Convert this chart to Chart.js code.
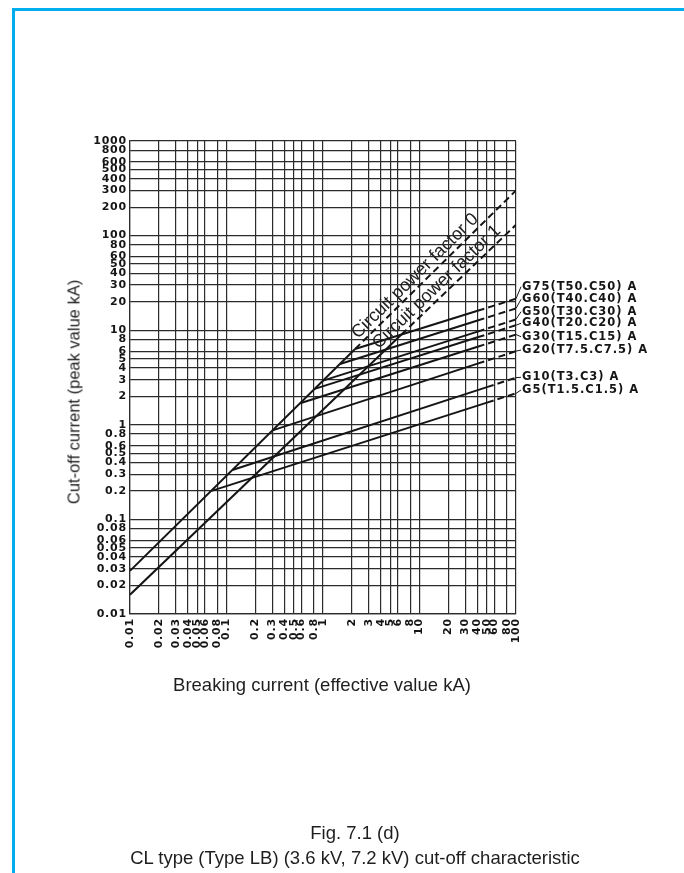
<!DOCTYPE html>
<html>
<head>
<meta charset="utf-8">
<title>CL type cut-off characteristic</title>
<script src="https://cdn.jsdelivr.net/npm/chart.js@4.4.1/dist/chart.umd.min.js"></script>
<style>
  html, body { margin: 0; padding: 0; background: #fff; }
  body {
    width: 684px; height: 873px; position: relative; overflow: hidden;
    font-family: "Liberation Sans", Arial, sans-serif; color: #1e1e1e;
  }
  .frame {
    position: absolute; left: 12px; top: 8px; right: -10px; bottom: -10px;
    border-top: 3px solid #00aeef; border-left: 3px solid #00aeef;
  }
  #chart { position: absolute; left: 0; top: 0; }
  .y-title {
    position: absolute; left: 74px; top: 392px; white-space: nowrap; font-size: 16.5px;
    transform: translate(-50%, -50%) rotate(-90deg);
  }
  .x-title {
    position: absolute; left: 322px; top: 685px; white-space: nowrap; font-size: 18.5px;
    transform: translate(-50%, -50%);
  }
  .caption {
    position: absolute; left: 0; width: 710px; top: 820px;
    text-align: center; font-size: 18.5px; line-height: 25px;
  }
</style>
</head>
<body>
<div class="frame"></div>
<canvas id="chart" width="684" height="873"></canvas>
<div class="y-title">Cut-off current (peak value kA)</div>
<div class="x-title">Breaking current (effective value kA)</div>
<div class="caption">Fig. 7.1 (d)<br>CL type (Type LB) (3.6 kV, 7.2 kV) cut-off characteristic</div>

<script>
/* ---------------------------------------------------------
   Daten
   --------------------------------------------------------- */
const X_TICKS = [0.01, 0.02, 0.03, 0.04, 0.05, 0.06, 0.08, 0.1, 0.2, 0.3, 0.4, 0.5, 0.6, 0.8,
  1, 2, 3, 4, 5, 6, 8, 10, 20, 30, 40, 50, 60, 80, 100];
const X_TICK_LABELS = ["0.01", "0.02", "0.03", "0.04", "0.05", "0.06", "0.08", "0.1", "0.2", "0.3",
  "0.4", "0.5", "0.6", "0.8", "1", "2", "3", "4", "5", "6", "8", "10", "20", "30", "40", "50",
  "60", "80", "100"];

const Y_TICKS = [0.01, 0.02, 0.03, 0.04, 0.05, 0.06, 0.08, 0.1, 0.2, 0.3, 0.4, 0.5, 0.6, 0.8,
  1, 2, 3, 4, 5, 6, 8, 10, 20, 30, 40, 50, 60, 80, 100, 200, 300, 400, 500, 600, 800, 1000];
const Y_TICK_LABELS = ["0.01", "0.02", "0.03", "0.04", "0.05", "0.06", "0.08", "0.1", "0.2", "0.3",
  "0.4", "0.5", "0.6", "0.8", "1", "2", "3", "4", "5", "6", "8", "10", "20", "30", "40", "50",
  "60", "80", "100", "200", "300", "400", "500", "600", "800", "1000"];

// circuit power factor lines, [kA eff, kA peak]
const PF0_SOLID = [[0.01, 0.0286], [2.15, 6.32]];
const PF0_DASHED = [[2.15, 6.32], [100, 300]];
const PF1_SOLID = [[0.01, 0.016], [6.5, 9.0]];
const PF1_DASHED = [[6.5, 9.0], [100, 130]];
const PF_LABELS = ["Circuit power factor 0", "Circuit power factor 1"];
const PF_LABEL_AT = [2.5, 4.1];

// fuse ratings: start on the PF0 line, solid up to DASH_FROM, dashed to 100 kA
const FUSE_NAMES = ["G5(T1.5.C1.5) A", "G10(T3.C3) A", "G20(T7.5.C7.5) A", "G30(T15.C15) A",
  "G40(T20.C20) A", "G50(T30.C30) A", "G60(T40.C40) A", "G75(T50.C50) A"];
const FUSE_START = [[0.07, 0.2], [0.115, 0.333], [0.3, 0.873], [0.58, 1.69],
  [0.82, 2.4], [1.0, 2.93], [1.5, 4.4], [2.15, 6.32]];
const FUSE_DASH_FROM = [[50, 1.714], [50, 2.503], [40, 4.43], [40, 6.68],
  [40, 8.41], [40, 9.665], [40, 12.66], [40, 16.05]];
const FUSE_END = [[100, 2.15], [100, 3.15], [100, 6.0], [100, 9.0],
  [100, 11.3], [100, 13.0], [100, 17.0], [100, 21.5]];

/* --------------------------------------------------------- */
const INK = "#151515";
const GRID = "#2b2b2b";
const DASH = [7, 4];
// label rows to the right of the plot, px below chartArea.top (G5 ... G75)
const LABEL_ROW = [249, 236.3, 209, 195.7, 182.3, 170.7, 158.3, 145.7];

function toPoints(pairs) {
  return pairs.map(([x, y]) => ({ x, y }));
}

function lineSet(pairs, dashed) {
  return {
    data: toPoints(pairs),
    borderColor: INK,
    borderWidth: 2,
    borderDash: dashed ? DASH : [],
    pointRadius: 0,
    fill: false,
    tension: 0,
  };
}

const datasets = [
  lineSet(PF0_SOLID, false), lineSet(PF0_DASHED, true),
  lineSet(PF1_SOLID, false), lineSet(PF1_DASHED, true),
];
FUSE_NAMES.forEach((name, i) => {
  datasets.push(lineSet([FUSE_START[i], FUSE_DASH_FROM[i]], false));
  datasets.push(lineSet([FUSE_DASH_FROM[i], FUSE_END[i]], true));
});

// text along the power factor lines + fuse names with leader lines
const annotations = {
  id: "annotations",
  beforeDraw(chart) {
    chart.ctx.letterSpacing = "0.8px";
  },
  afterDraw(chart) {
    const { ctx, chartArea } = chart;
    const xs = chart.scales.x, ys = chart.scales.y;

    ctx.save();
    ctx.letterSpacing = "0px";
    ctx.fillStyle = "#222";
    ctx.font = "18px 'Liberation Sans', Arial, sans-serif";
    ctx.textAlign = "left";
    ctx.textBaseline = "alphabetic";
    [PF0_DASHED, PF1_DASHED].forEach((pts, i) => {
      const x0 = xs.getPixelForValue(pts[0][0]), y0 = ys.getPixelForValue(pts[0][1]);
      const x1 = xs.getPixelForValue(pts[1][0]), y1 = ys.getPixelForValue(pts[1][1]);
      const px = xs.getPixelForValue(PF_LABEL_AT[i]);
      const py = y0 + (y1 - y0) * (px - x0) / (x1 - x0);
      ctx.save();
      ctx.translate(px, py);
      ctx.rotate(Math.atan2(y1 - y0, x1 - x0));
      ctx.fillText(PF_LABELS[i], 0, -5);
      ctx.restore();
    });

    ctx.letterSpacing = "1px";
    ctx.font = "bold 11.5px 'DejaVu Sans', sans-serif";
    ctx.textBaseline = "middle";
    ctx.fillStyle = INK;
    ctx.strokeStyle = INK;
    ctx.lineWidth = 1;
    const lx = chartArea.right + 6;
    FUSE_NAMES.forEach((name, i) => {
      const ey = ys.getPixelForValue(FUSE_END[i][1]);
      const ly = chartArea.top + LABEL_ROW[i];
      ctx.beginPath();
      ctx.moveTo(chartArea.right, ey);
      ctx.lineTo(lx - 1, ly);
      ctx.stroke();
      ctx.fillText(name, lx, ly);
    });
    ctx.restore();
    ctx.letterSpacing = "0px";
  },
};

const tickFont = { family: "'DejaVu Sans', sans-serif", size: 11, weight: "bold" };

new Chart(document.getElementById("chart"), {
  type: "line",
  data: { datasets },
  plugins: [annotations],
  options: {
    responsive: false,
    animation: false,
    devicePixelRatio: 1,
    layout: { padding: { left: 0, top: 141, right: 168, bottom: 209 } },
    plugins: { legend: { display: false }, tooltip: { enabled: false } },
    scales: {
      x: {
        type: "logarithmic",
        min: 0.01,
        max: 100,
        afterBuildTicks: (s) => { s.ticks = X_TICKS.map((v) => ({ value: v })); },
        afterFit: (s) => { s.height = 50; },
        grid: { color: GRID, lineWidth: 1.2, drawTicks: false },
        border: { color: GRID, width: 1.2 },
        ticks: {
          autoSkip: false, minRotation: 90, maxRotation: 90, padding: 4,
          color: INK, font: tickFont,
          callback: (v, i) => X_TICK_LABELS[i],
        },
      },
      y: {
        type: "logarithmic",
        min: 0.01,
        max: 1000,
        afterBuildTicks: (s) => { s.ticks = Y_TICKS.map((v) => ({ value: v })); },
        afterFit: (s) => { s.width = 130; },
        grid: { color: GRID, lineWidth: 1.2, drawTicks: false },
        border: { color: GRID, width: 1.2 },
        ticks: {
          autoSkip: false, padding: 3,
          color: INK, font: tickFont,
          callback: (v, i) => Y_TICK_LABELS[i],
        },
      },
    },
  },
});
</script>
</body>
</html>
